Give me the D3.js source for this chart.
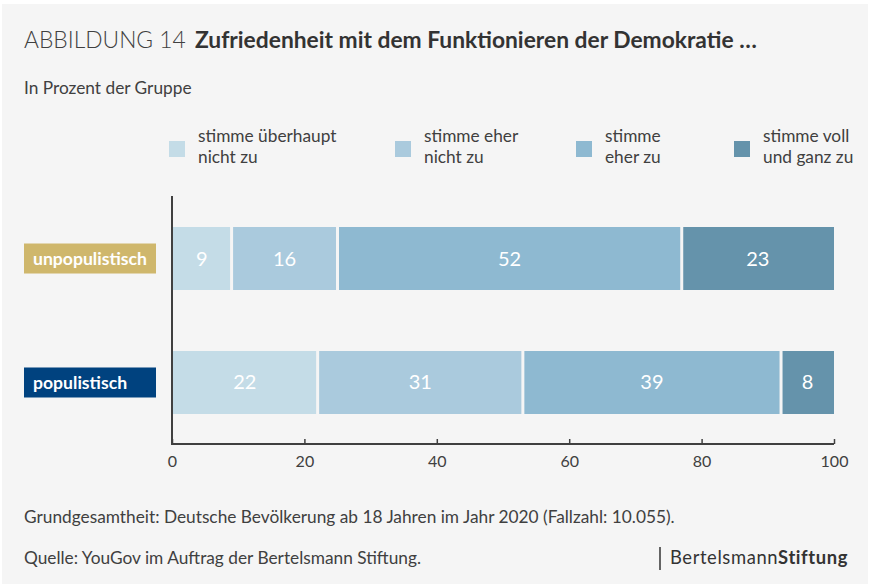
<!DOCTYPE html>
<html>
<head>
<meta charset="utf-8">
<script src="https://cdn.jsdelivr.net/npm/d3@7"></script>
<style>
  body { margin: 0; background: #fff; }
  text { font-family: Lato, 'Open Sans', sans-serif; }
</style>
</head>
<body>
<svg id="chart" width="870" height="586"></svg>
<script>
// data
var groups = ['unpopulistisch', 'populistisch'];
var groupColors = ['#cfb76c', '#00427f'];
var answers = ['stimme überhaupt nicht zu', 'stimme eher nicht zu', 'stimme eher zu', 'stimme voll und ganz zu'];
var legendLines = [['stimme überhaupt', 'nicht zu'], ['stimme eher', 'nicht zu'], ['stimme', 'eher zu'], ['stimme voll', 'und ganz zu']];
var answerColors = ['#c4dce7', '#aacadd', '#8eb9d1', '#6593ab'];
var unpopulistisch = [9, 16, 52, 23];
var populistisch = [22, 31, 39, 8];
var xTicks = [0, 20, 40, 60, 80, 100];

var svg = d3.select('#chart');
var ink = '#404040';

svg.append('rect')
  .attr('x', 2).attr('y', 4)
  .attr('width', 866).attr('height', 580)
  .attr('fill', '#f5f5f5');

// title
var title = svg.append('text').attr('x', 24).attr('y', 48)
  .style('font-size', '22.8px').attr('fill', ink);
title.append('tspan').style('font-weight', 300).text('ABBILDUNG 14 ');
title.append('tspan').attr('dx', 3).style('font-weight', 700).attr('fill', '#333')
  .text('Zufriedenheit mit dem Funktionieren der Demokratie …');

svg.append('text').attr('x', 24).attr('y', 94)
  .style('font-size', '17.3px').attr('fill', ink)
  .text('In Prozent der Gruppe');

// legend
var legendX = [169, 395, 576, 734];
var legend = svg.selectAll('g.legend')
  .data(answers)
  .enter()
  .append('g')
  .attr('class', 'legend')
  .attr('transform', function(d, i) {
    return 'translate(' + legendX[i] + ',141)';
  });

legend.append('rect')
  .attr('width', 16).attr('height', 16)
  .attr('fill', function(d, i) { return answerColors[i]; });

legend.each(function(d, i) {
  var t = d3.select(this).append('text')
    .attr('x', 29).attr('y', 1)
    .style('font-size', '17.3px').attr('fill', ink);
  legendLines[i].forEach(function(line, j) {
    t.append('tspan').attr('x', 29).attr('dy', j === 0 ? 0 : 21).text(line);
  });
});

// scales
var x = d3.scaleLinear().domain([0, 100]).range([172, 834]);
var y = d3.scaleBand().domain(groups).range([197, 444])
  .paddingInner(0.492).paddingOuter(0.242);

var rows = [unpopulistisch, populistisch].map(function(vals, gi) {
  var acc = 0;
  return vals.map(function(v, i) {
    var seg = { group: groups[gi], idx: i, value: v, x0: acc, x1: acc + v };
    acc += v;
    return seg;
  });
});

var gap = 1.5;
var segs = svg.selectAll('g.seg')
  .data(d3.merge(rows))
  .enter()
  .append('g')
  .attr('class', 'seg');

segs.append('rect')
  .attr('x', function(d) { return d.idx === 0 ? x(d.x0) : x(d.x0) + gap; })
  .attr('y', function(d) { return y(d.group); })
  .attr('width', function(d) {
    var left = d.idx === 0 ? x(d.x0) : x(d.x0) + gap;
    var right = d.idx === 3 ? x(d.x1) : x(d.x1) - gap;
    return right - left;
  })
  .attr('height', y.bandwidth())
  .attr('fill', function(d) { return answerColors[d.idx]; });

segs.append('text')
  .attr('x', function(d) { return (x(d.x0) + x(d.x1)) / 2; })
  .attr('y', function(d) { return y(d.group) + y.bandwidth() / 2; })
  .attr('dy', '0.35em')
  .attr('text-anchor', 'middle')
  .style('font-size', '20px')
  .attr('fill', '#fff')
  .text(function(d) { return d.value; });

// group labels
var labels = svg.selectAll('g.label')
  .data(groups)
  .enter()
  .append('g')
  .attr('class', 'label');

labels.append('rect')
  .attr('x', 24)
  .attr('y', function(d) { return y(d) + y.bandwidth() / 2 - 15; })
  .attr('width', 132).attr('height', 30)
  .attr('fill', function(d, i) { return groupColors[i]; });

labels.append('text')
  .attr('x', 33)
  .attr('y', function(d) { return y(d) + y.bandwidth() / 2; })
  .attr('dy', '0.35em')
  .style('font-size', '17.6px').style('font-weight', 700)
  .attr('fill', '#fff')
  .text(function(d) { return d; });

// axes
var xAxis = svg.append('g')
  .attr('transform', 'translate(0,444)')
  .call(d3.axisTop(x).tickValues(xTicks).tickSize(5).tickFormat(d3.format('d')));
xAxis.select('.domain').attr('stroke', ink).attr('stroke-width', 2).attr('d', 'M172,0H834');
xAxis.selectAll('.tick line').attr('stroke', ink).attr('stroke-width', 1.5);
xAxis.selectAll('.tick text')
  .attr('y', 17).attr('dy', '0.35em')
  .style('font-size', '16px').style('font-family', 'Lato, sans-serif')
  .attr('fill', ink);

svg.append('line')
  .attr('x1', 172).attr('x2', 172)
  .attr('y1', 196).attr('y2', 445)
  .attr('stroke', ink).attr('stroke-width', 2);

// footer
svg.append('text').attr('x', 24).attr('y', 523)
  .style('font-size', '17.3px').attr('fill', ink)
  .text('Grundgesamtheit: Deutsche Bevölkerung ab 18 Jahren im Jahr 2020 (Fallzahl: 10.055).');
svg.append('text').attr('x', 24).attr('y', 564)
  .style('font-size', '17.3px').attr('fill', ink)
  .text('Quelle: YouGov im Auftrag der Bertelsmann Stiftung.');

svg.append('line')
  .attr('x1', 660).attr('x2', 660)
  .attr('y1', 547).attr('y2', 570)
  .attr('stroke', '#333').attr('stroke-width', 1.5);
var logo = svg.append('text').attr('x', 848).attr('y', 564)
  .attr('text-anchor', 'end')
  .style('font-size', '18.4px').style('letter-spacing', '0.6px').attr('fill', '#333');
logo.append('tspan').text('Bertelsmann');
logo.append('tspan').style('font-weight', 700).text('Stiftung');
</script>
</body>
</html>
